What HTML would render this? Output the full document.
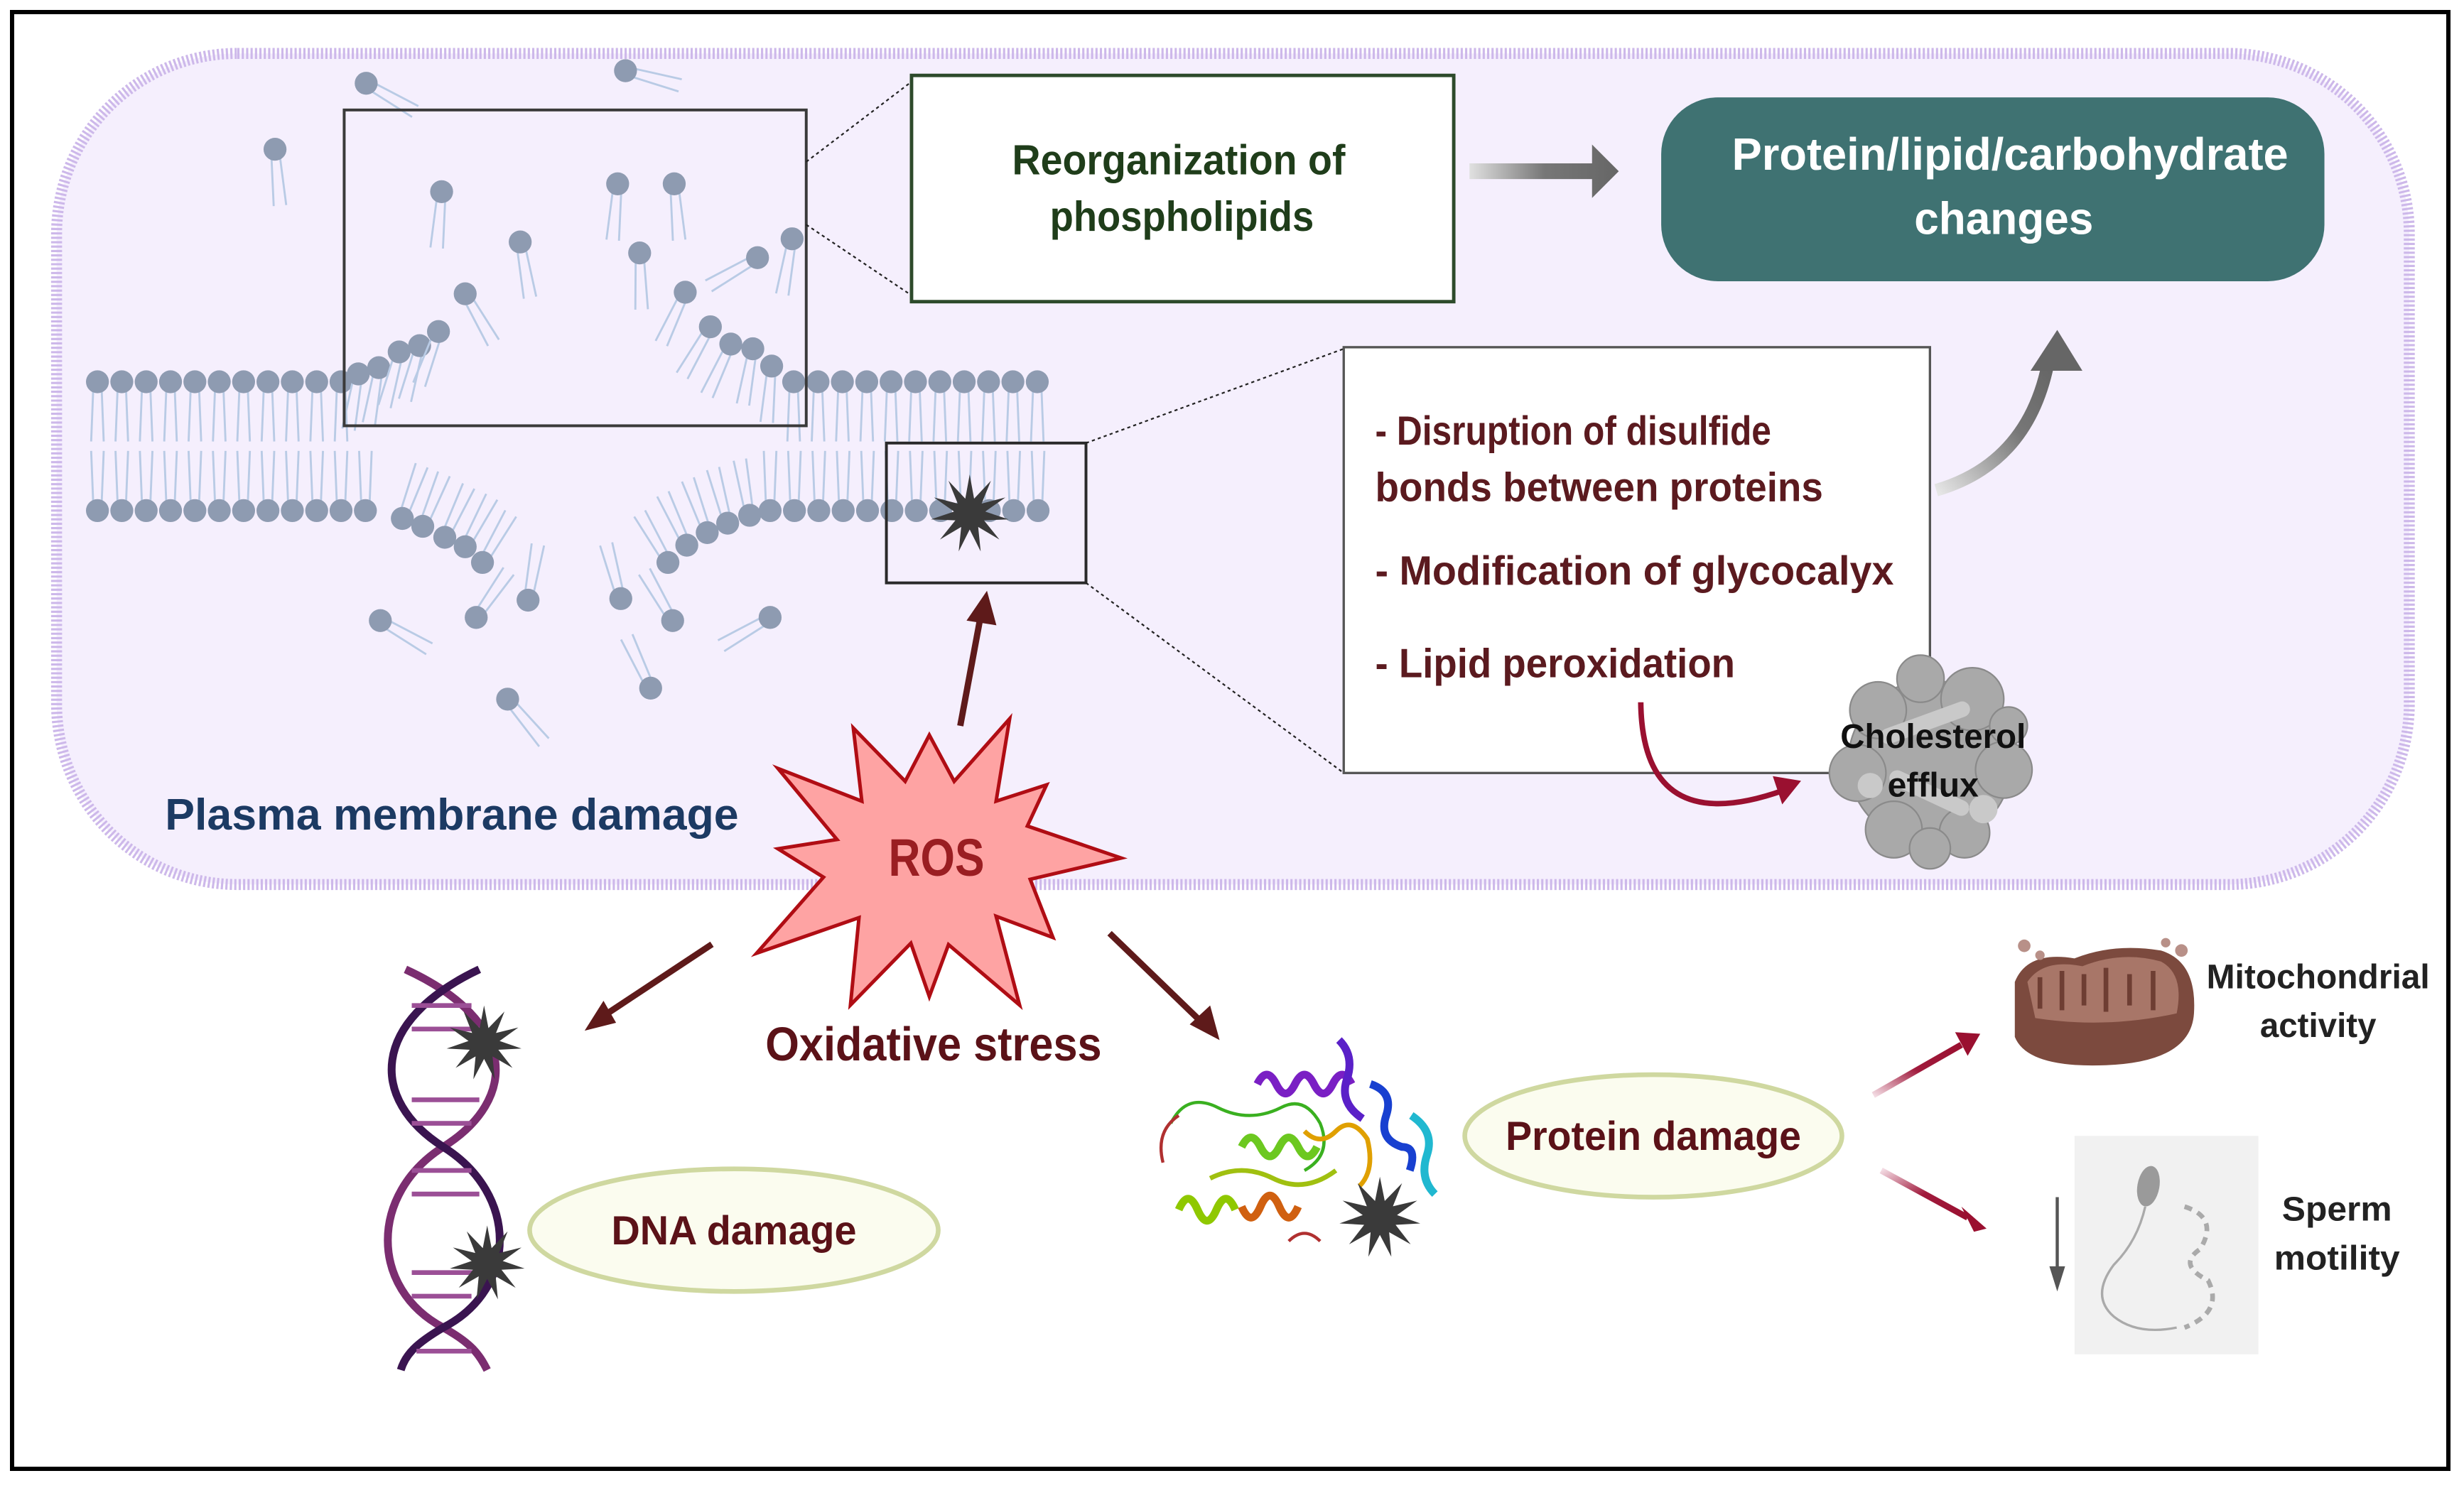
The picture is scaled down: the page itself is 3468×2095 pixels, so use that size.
<!DOCTYPE html>
<html><head><meta charset="utf-8"><style>
html,body{margin:0;padding:0;background:#fff;}
svg{display:block;}
text{font-family:"Liberation Sans",sans-serif;font-weight:bold;}
</style></head><body>
<svg id="s" width="3468" height="2095" viewBox="0 0 3468 2095" xmlns="http://www.w3.org/2000/svg">
<defs>
<linearGradient id="ga" x1="0" x2="1" y1="0" y2="0"><stop offset="0" stop-color="#e0e0e0"/><stop offset="0.5" stop-color="#777"/><stop offset="1" stop-color="#666"/></linearGradient>
<linearGradient id="gc" x1="0" x2="1" y1="1" y2="0"><stop offset="0" stop-color="#e6e6e6"/><stop offset="0.6" stop-color="#777"/><stop offset="1" stop-color="#666"/></linearGradient>
<linearGradient id="gr" x1="0" x2="1" y1="1" y2="0"><stop offset="0" stop-color="#f3dbe3"/><stop offset="0.5" stop-color="#a01a3c"/><stop offset="1" stop-color="#9a1030"/></linearGradient>
<linearGradient id="gr2" x1="0" x2="1" y1="0" y2="1"><stop offset="0" stop-color="#f3dbe3"/><stop offset="0.5" stop-color="#a01a3c"/><stop offset="1" stop-color="#9a1030"/></linearGradient>
</defs>
<rect x="0" y="0" width="3468" height="2095" fill="#fff"/>
<rect x="17" y="17" width="3429" height="2051" fill="none" stroke="#000" stroke-width="6"/>
<g transform="scale(2.212)">
<rect x="36" y="34" width="1497" height="529" rx="115" fill="#f5effd" stroke="#cdb8ea" stroke-width="7" stroke-dasharray="1.4 1.4"/>
<g id="lip"></g>
<rect x="219" y="70" width="294" height="201" fill="none" stroke="#3a3a3a" stroke-width="1.8"/>
<line x1="513" y1="103" x2="580" y2="52" stroke="#222" stroke-width="1" stroke-dasharray="2 2"/>
<line x1="513" y1="143" x2="580" y2="188" stroke="#222" stroke-width="1" stroke-dasharray="2 2"/>
<rect x="580" y="48" width="345" height="144" fill="#fff" stroke="#2d4a2b" stroke-width="2.2"/>
<text x="750" y="111" font-size="27" fill="#1f3d1a" text-anchor="middle" textLength="212" lengthAdjust="spacingAndGlyphs">Reorganization of</text>
<text x="752" y="147" font-size="27" fill="#1f3d1a" text-anchor="middle" textLength="168" lengthAdjust="spacingAndGlyphs">phospholipids</text>
<path d="M935,104 L1013,104 L1013,92 L1030,109 L1013,126 L1013,114 L935,114 Z" fill="url(#ga)"/>
<rect x="1057" y="62" width="422" height="117" rx="36" fill="#3f7272"/>
<text x="1279" y="108" font-size="29" fill="#fff" text-anchor="middle" textLength="354" lengthAdjust="spacingAndGlyphs">Protein/lipid/carbohydrate</text>
<text x="1275" y="149" font-size="29" fill="#fff" text-anchor="middle" textLength="114" lengthAdjust="spacingAndGlyphs">changes</text>
<rect x="564" y="282" width="127" height="89" fill="none" stroke="#2a2a2a" stroke-width="1.8"/>
<line x1="691" y1="282" x2="855" y2="222" stroke="#222" stroke-width="1" stroke-dasharray="2 2"/>
<line x1="691" y1="371" x2="855" y2="492" stroke="#222" stroke-width="1" stroke-dasharray="2 2"/>
<rect x="855" y="221" width="373" height="271" fill="#fff" stroke="#555" stroke-width="1.5"/>
<g font-size="26" fill="#5b1a1f">
<text x="875" y="283" textLength="252" lengthAdjust="spacingAndGlyphs">- Disruption of disulfide</text>
<text x="875" y="319" textLength="285" lengthAdjust="spacingAndGlyphs">bonds between proteins</text>
<text x="875" y="372" textLength="330" lengthAdjust="spacingAndGlyphs">- Modification of glycocalyx</text>
<text x="875" y="431" textLength="229" lengthAdjust="spacingAndGlyphs">- Lipid peroxidation</text>
</g>
<path d="M1232,312 Q1290,295 1303,232" fill="none" stroke="url(#gc)" stroke-width="8"/>
<path d="M1292,236 L1309,210 L1325,236 Z" fill="#666"/>
<path d="M1044,447 Q1045,535 1135,503" fill="none" stroke="#9a1030" stroke-width="3.5"/>
<path d="M1128,494 L1146,497 L1134,512 Z" fill="#9a1030"/>
<g fill="#a9a9a9" stroke="#8a8a8a" stroke-width="1">
<circle cx="1228" cy="485" r="52"/>
<circle cx="1195" cy="452" r="18"/><circle cx="1255" cy="445" r="20"/><circle cx="1222" cy="432" r="15"/>
<circle cx="1182" cy="492" r="18"/><circle cx="1275" cy="490" r="18"/><circle cx="1205" cy="528" r="18"/>
<circle cx="1250" cy="530" r="16"/><circle cx="1278" cy="462" r="12"/><circle cx="1228" cy="540" r="13"/>
</g>
<g fill="#c9c9c9"><rect x="1195" y="455" width="60" height="10" rx="5" transform="rotate(-20 1225 460)"/><rect x="1200" y="500" width="55" height="10" rx="5" transform="rotate(25 1228 505)"/><circle cx="1262" cy="515" r="9"/><circle cx="1190" cy="500" r="8"/></g>
<text x="1230" y="476" font-size="22" fill="#111" text-anchor="middle" textLength="118" lengthAdjust="spacingAndGlyphs">Cholesterol</text>
<text x="1230" y="507" font-size="22" fill="#111" text-anchor="middle" textLength="58" lengthAdjust="spacingAndGlyphs">efflux</text>
<text x="105" y="528" font-size="28" fill="#1c3a63" textLength="365" lengthAdjust="spacingAndGlyphs">Plasma membrane damage</text>
<line x1="611" y1="462" x2="624" y2="392" stroke="#5e1a1a" stroke-width="4"/>
<path d="M615,395 L628,376 L634,398 Z" fill="#5e1a1a"/>
<text x="594" y="675" font-size="30" fill="#5b1218" text-anchor="middle" textLength="214" lengthAdjust="spacingAndGlyphs">Oxidative stress</text>
<line x1="453" y1="601" x2="382" y2="648" stroke="#5e1a1a" stroke-width="4"/>
<path d="M372,656 L384,637 L392,651 Z" fill="#5e1a1a"/>
<line x1="706" y1="594" x2="765" y2="651" stroke="#5e1a1a" stroke-width="4"/>
<path d="M776,662 L757,652 L770,640 Z" fill="#5e1a1a"/>
<g fill="none" stroke-width="5">
<path d="M258,617 C330,650 330,700 282,730 C235,760 235,820 282,845 C300,855 305,862 310,872" stroke="#7b2d70"/>
<path d="M305,617 C235,650 235,700 282,730 C330,760 330,820 282,845 C265,855 258,862 255,872" stroke="#3a1450"/>
</g>
<g stroke="#9b4f96" stroke-width="3"><line x1="262" y1="640" x2="300" y2="640"/><line x1="262" y1="655" x2="305" y2="655"/><line x1="262" y1="700" x2="305" y2="700"/><line x1="262" y1="715" x2="300" y2="715"/><line x1="262" y1="745" x2="300" y2="745"/><line x1="262" y1="760" x2="305" y2="760"/><line x1="262" y1="810" x2="305" y2="810"/><line x1="262" y1="825" x2="300" y2="825"/><line x1="265" y1="860" x2="300" y2="860"/></g>
<ellipse cx="467" cy="783" rx="130" ry="39" fill="#fbfcef" stroke="#cfd8a0" stroke-width="3"/>
<text x="467" y="792" font-size="26" fill="#5b1218" text-anchor="middle" textLength="156" lengthAdjust="spacingAndGlyphs">DNA damage</text>
<g fill="none" stroke-width="5">
<path d="M800,690 q6,-12 12,0 q6,12 12,0 q6,-12 12,0 q6,12 12,0 q6,-12 12,0" stroke="#7a1fc4"/>
<path d="M852,662 q10,10 5,25 q-5,15 10,25" stroke="#5a20c8"/>
<path d="M872,690 q15,5 10,20 q-5,15 10,20 q10,0 5,15" stroke="#1840d0"/>
<path d="M898,710 q15,10 10,25 q-5,15 5,25" stroke="#20b8d0"/>
<path d="M790,730 q6,-12 12,0 q6,12 12,0 q6,-12 12,0 q6,12 12,0" stroke="#6cc820"/>
<path d="M750,770 q6,-14 12,0 q6,14 12,0 q6,-14 12,0" stroke="#8fc800"/>
<path d="M790,768 q6,14 12,0 q6,-14 12,0 q6,14 12,0" stroke="#d06010"/>
<path d="M745,715 q10,-20 30,-10 q20,10 40,0 q15,-8 25,10 q8,20 -10,30" stroke="#3ab020" stroke-width="2"/>
<path d="M740,740 q-5,-20 10,-30 M820,790 q10,-10 20,0" stroke="#b03030" stroke-width="2"/>
<path d="M830,720 q10,10 20,0 q10,-10 20,5 q5,20 -5,30" stroke="#e0a000" stroke-width="3"/>
<path d="M770,750 q20,-10 40,0 q20,10 40,-5" stroke="#a0c010" stroke-width="3"/>
</g>
<ellipse cx="1052" cy="723" rx="120" ry="39" fill="#fbfcef" stroke="#cfd8a0" stroke-width="3"/>
<text x="1052" y="732" font-size="26" fill="#5b1218" text-anchor="middle" textLength="188" lengthAdjust="spacingAndGlyphs">Protein damage</text>
<line x1="1192" y1="697" x2="1248" y2="665" stroke="url(#gr)" stroke-width="4"/>
<path d="M1260,658 L1244,657 L1252,672 Z" fill="#9a1030"/>
<line x1="1197" y1="745" x2="1252" y2="775" stroke="url(#gr2)" stroke-width="4"/>
<path d="M1264,782 L1248,768 L1256,784 Z" fill="#9a1030"/>
<path d="M1282,625 Q1290,605 1320,610 Q1345,600 1375,605 Q1398,612 1396,645 Q1394,676 1340,678 Q1290,680 1282,660 Z" fill="#7c4a3e"/>
<path d="M1290,625 Q1300,610 1325,615 Q1350,605 1375,612 Q1390,620 1385,645 Q1340,655 1295,648 Z" fill="#a87668"/>
<g stroke="#6e3e33" stroke-width="3" fill="none"><path d="M1298,622 v20 M1312,618 v25 M1326,620 v20 M1340,616 v28 M1355,620 v20 M1370,618 v25"/></g>
<g fill="#b89088"><circle cx="1288" cy="602" r="4"/><circle cx="1298" cy="608" r="3"/><circle cx="1388" cy="605" r="4"/><circle cx="1378" cy="600" r="3"/></g>
<text x="1475" y="629" font-size="22" fill="#222" text-anchor="middle" textLength="142" lengthAdjust="spacingAndGlyphs">Mitochondrial</text>
<text x="1475" y="660" font-size="22" fill="#222" text-anchor="middle" textLength="74" lengthAdjust="spacingAndGlyphs">activity</text>
<rect x="1320" y="723" width="117" height="139" fill="#f1f1f1"/>
<ellipse cx="1367" cy="755" rx="7" ry="13" fill="#9a9a9a" transform="rotate(10 1367 755)"/>
<path d="M1365,768 Q1360,790 1345,805 Q1330,825 1345,838 Q1360,850 1385,845" fill="none" stroke="#aaa" stroke-width="1.5"/>
<path d="M1390,768 Q1412,775 1400,795 Q1385,805 1405,815 Q1415,835 1390,845" fill="none" stroke="#aaa" stroke-width="3" stroke-dasharray="5 4"/>
<line x1="1309" y1="762" x2="1309" y2="808" stroke="#555" stroke-width="2"/>
<path d="M1304,806 L1314,806 L1309,822 Z" fill="#555"/>
<text x="1487" y="777" font-size="22" fill="#222" text-anchor="middle" textLength="70" lengthAdjust="spacingAndGlyphs">Sperm</text>
<text x="1487" y="808" font-size="22" fill="#222" text-anchor="middle" textLength="80" lengthAdjust="spacingAndGlyphs">motility</text>
<g id="stars"></g>
</g>
<polygon points="1201,1025 1213,1128 1095,1082 1178,1182 1095,1195 1159,1235 1065,1342 1209,1292 1197,1415 1282,1328 1308,1403 1335,1330 1435,1415 1402,1290 1482,1320 1450,1238 1578,1208 1446,1163 1473,1105 1402,1128 1421,1012 1343,1100 1308,1035 1274,1100" fill="#fea3a3" stroke="#b00d14" stroke-width="5" stroke-linejoin="miter"/>
<text x="1318" y="1233" font-size="74" fill="#9a1e22" text-anchor="middle" textLength="135" lengthAdjust="spacingAndGlyphs">ROS</text>
<script>
(function(){
var NS="http://www.w3.org/2000/svg",g=document.getElementById("lip");
function lip(x,y,a,L){L=L||34;var r=a*Math.PI/180,dx=Math.cos(r),dy=Math.sin(r),px=-dy,py=dx;
 [[-2.5,-4],[2.5,4]].forEach(function(o){var l=document.createElementNS(NS,"line");
 l.setAttribute("x1",x+px*o[0]);l.setAttribute("y1",y+py*o[0]);
 l.setAttribute("x2",x+dx*L+px*o[1]);l.setAttribute("y2",y+dy*L+py*o[1]);
 l.setAttribute("stroke","#b9cbe5");l.setAttribute("stroke-width","1.3");g.appendChild(l);});
 var c=document.createElementNS(NS,"circle");c.setAttribute("cx",x);c.setAttribute("cy",y);c.setAttribute("r","7.3");c.setAttribute("fill","#8e9bb1");g.appendChild(c);}
var x;
for(x=62;x<=220;x+=15.5)lip(x,243,90,38);
for(x=505;x<=673;x+=15.5)lip(x,243,90,38);
for(x=62;x<=242;x+=15.5)lip(x,325,-90,38);
for(x=490;x<=673;x+=15.5)lip(x,325,-90,38);
[[228,238,100],[241,234,100],[254,224,105],[267,220,105],[279,211,110],[296,187,60],
[452,208,120],[465,219,115],[479,222,100],[491,233,95],
[256,330,-70],[269,335,-68],[283,342,-65],[296,348,-62],[307,358,-60],
[425,358,-120],[437,347,-115],[450,339,-110],[463,333,-105],[477,328,-100],
[233,53,30],[398,45,15],[175,95,85],[281,122,95],[393,117,95],[429,117,85],[331,154,80],[407,161,88],[436,186,115],[482,164,150],[504,152,100],
[242,395,30],[303,393,-55],[336,382,-80],[395,381,-105],[428,395,-120],[490,393,150],[323,445,50],[414,438,-115]
].forEach(function(p){lip(p[0],p[1],p[2],36);});
var sg=document.getElementById("stars");
function star(cx,cy,R,r,n){var pts=[];for(var i=0;i<2*n;i++){var a=Math.PI*i/n-Math.PI/2,rr=i%2?r:R;pts.push((cx+rr*Math.cos(a)).toFixed(1)+","+(cy+rr*Math.sin(a)).toFixed(1));}
 var p=document.createElementNS(NS,"polygon");p.setAttribute("points",pts.join(" "));p.setAttribute("fill","#3a3a3a");sg.appendChild(p);}
star(617,327,25,10,11);star(308,664,24,10,11);star(310,804,24,10,11);star(878,775,26,11,11);
})();
</script>
</svg>
</body></html>
